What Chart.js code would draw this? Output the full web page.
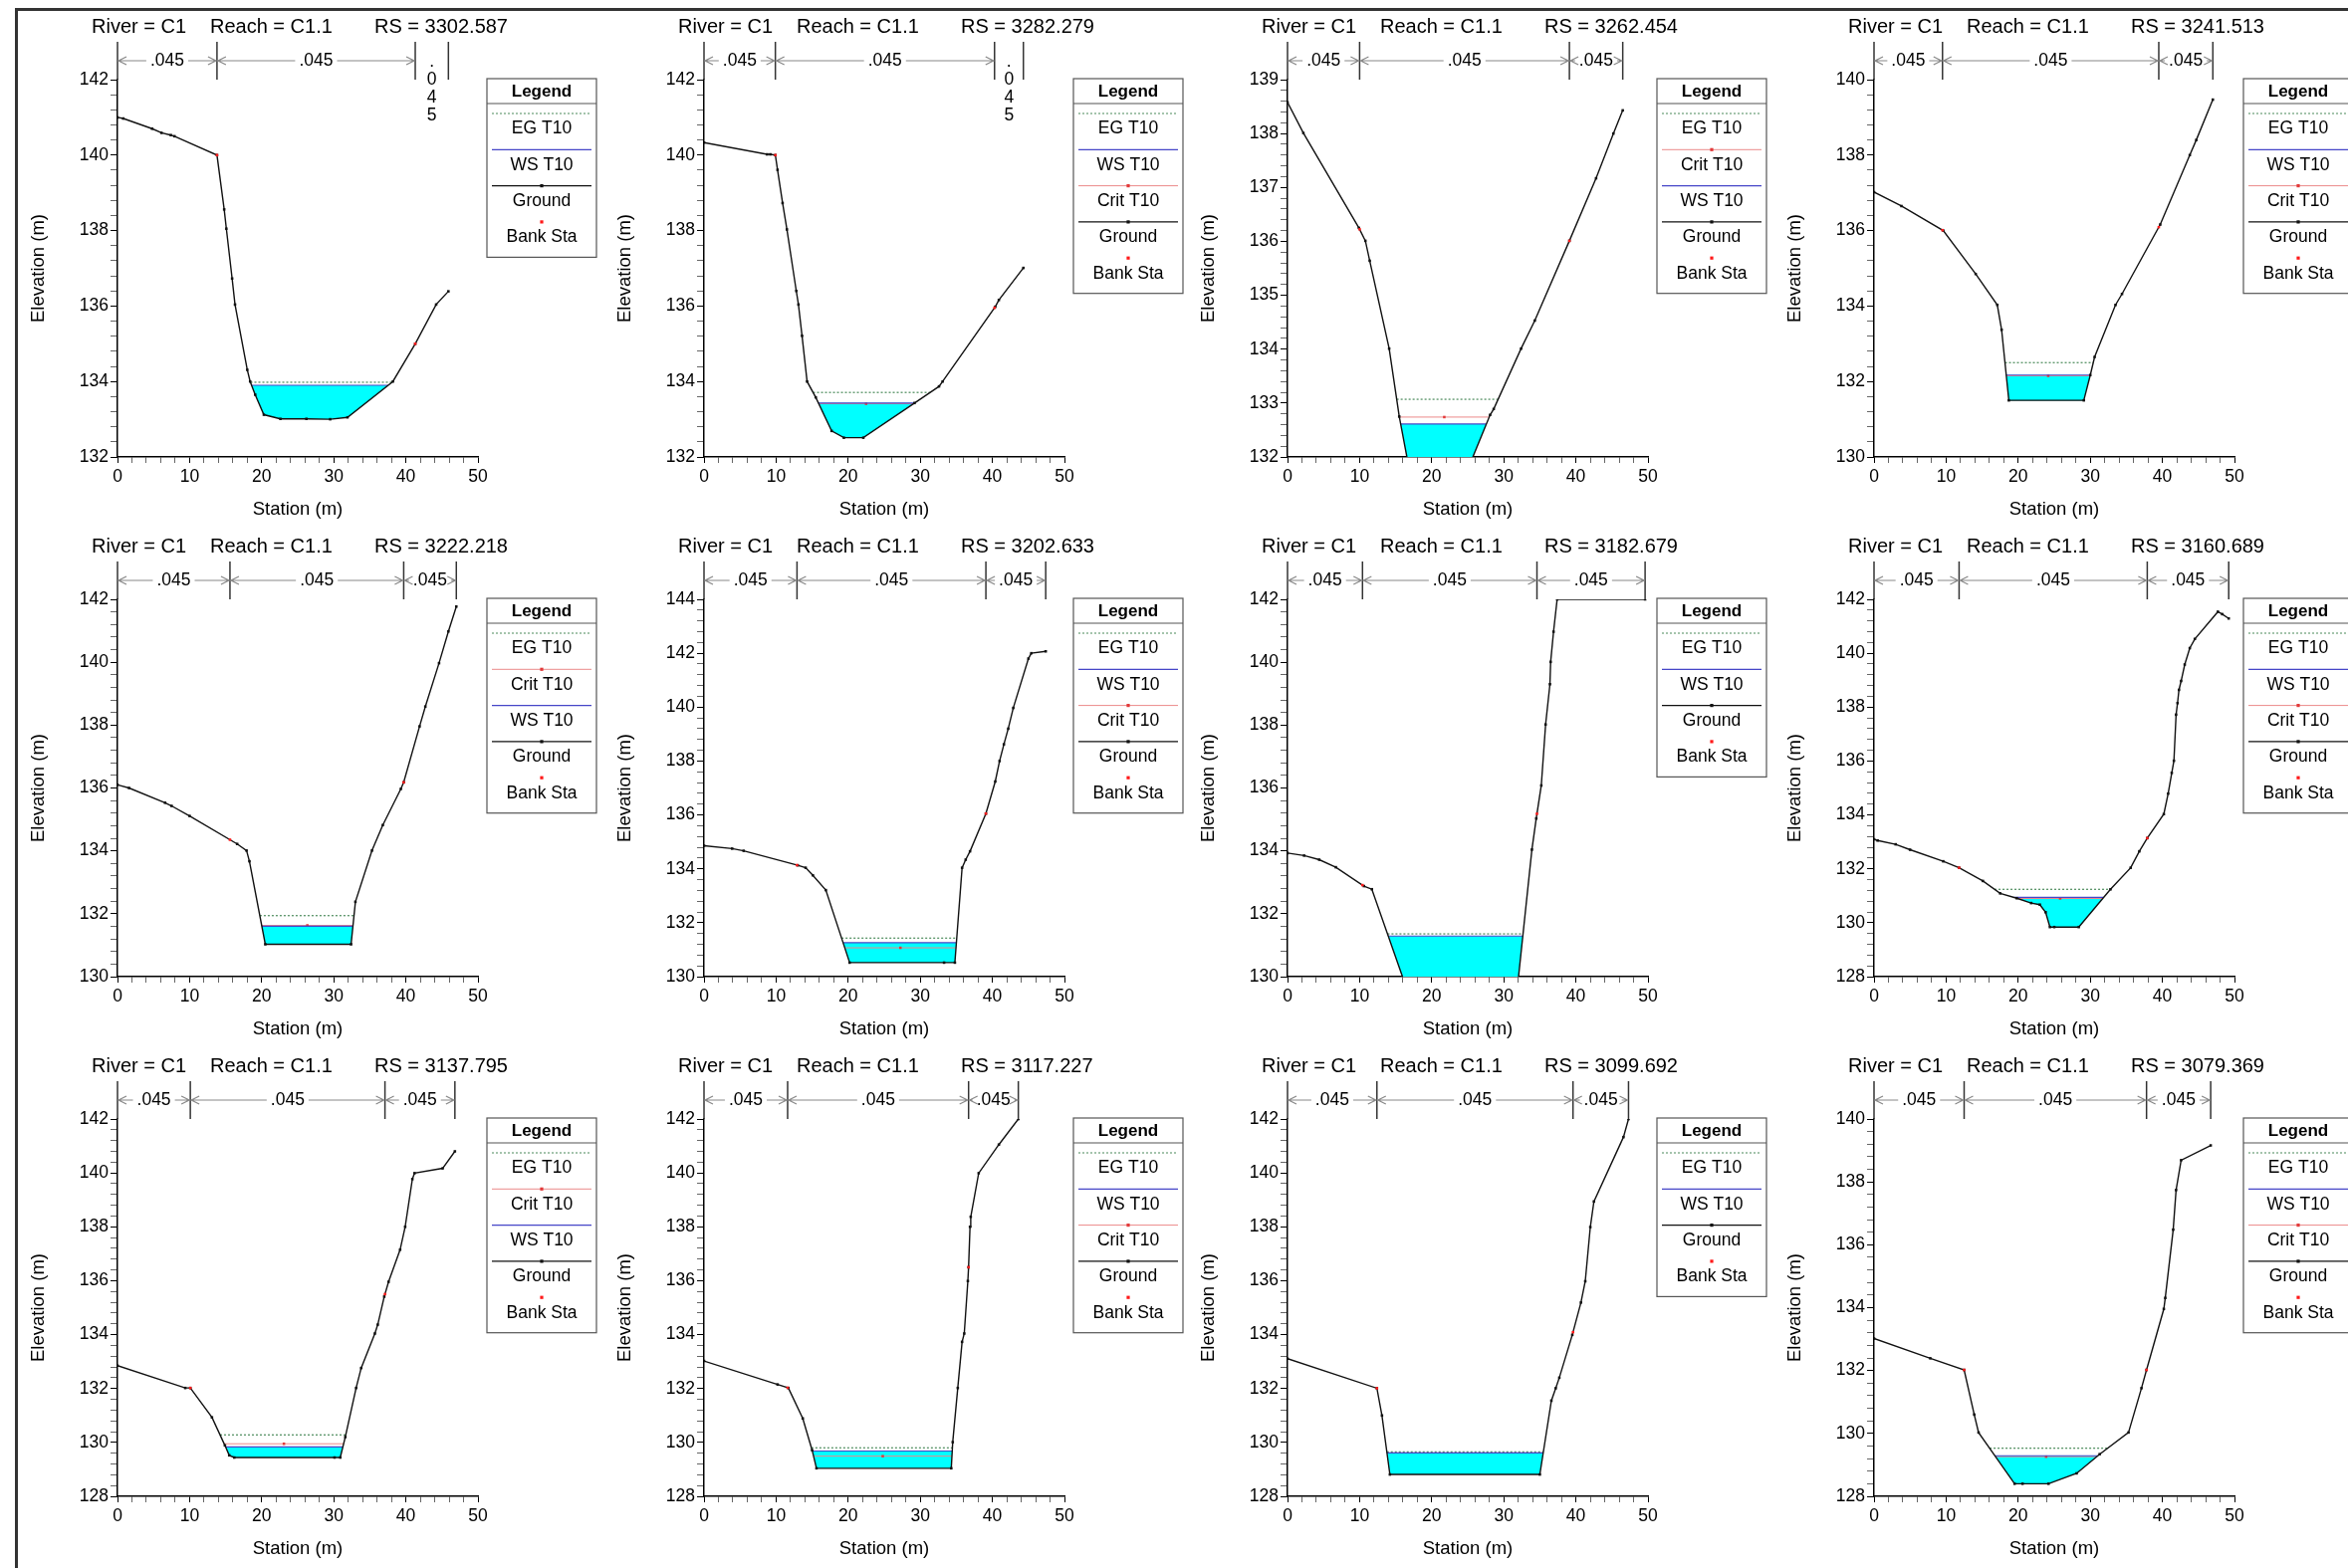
<!DOCTYPE html>
<html>
<head>
<meta charset="utf-8">
<script src="https://cdn.jsdelivr.net/npm/chart.js@4.4.1/dist/chart.umd.min.js"></script>
<style>
  html, body { margin: 0; padding: 0; background: #fff; }
  body { width: 2358px; height: 1575px; overflow: hidden; position: relative; }
  #frame { position: absolute; left: 15px; top: 8px; width: 2400px; height: 1620px;
           border-left: 3px solid #333; border-top: 3px solid #333; }
</style>
</head>
<body>
<div id="frame"></div>
<script>
const riverName = 'C1';
const reachName = 'C1.1';
const profile = 'T10';
const rsList = ['3302.587', '3282.279', '3262.454', '3241.513', '3222.218', '3202.633',
                '3182.679', '3160.689', '3137.795', '3117.227', '3099.692', '3079.369'];
const nValues = ['.045', '.045', '.045'];

// ground stations (m)
const stations = [
  [0, 0.8, 4.8, 6.1, 7.4, 7.9, 13.8, 14.8, 15.1, 15.9, 16.3, 18.0, 18.4, 19.1, 20.3, 22.6, 26.2, 29.5, 31.9, 38.2, 41.3, 44.2, 45.9],
  [0, 8.75, 9.2, 9.9, 10.2, 10.9, 11.5, 12.8, 13.1, 13.6, 14.3, 15.5, 17.7, 19.4, 22.1, 29.2, 32.6, 33.1, 40.4, 40.9, 44.3],
  [0, 2.2, 9.9, 10.8, 11.4, 14.1, 15.5, 16.7, 25.4, 28.1, 28.6, 32.4, 34.3, 39.1, 42.8, 45.2, 46.5],
  [0, 3.8, 9.6, 14.1, 17.1, 17.7, 18.7, 29.1, 30.0, 30.6, 33.5, 34.4, 39.7, 43.8, 44.7, 47.0],
  [0, 1.6, 6.6, 7.5, 10.0, 16.6, 17.9, 18.3, 20.5, 32.4, 33.0, 35.3, 36.8, 39.3, 39.7, 41.9, 42.7, 44.6, 45.9, 47.0],
  [0, 3.9, 5.5, 13.0, 14.1, 15.1, 16.9, 20.2, 33.3, 34.8, 35.8, 36.3, 36.9, 39.1, 40.4, 41.0, 41.6, 42.2, 42.9, 45.0, 45.4, 47.4],
  [0, 2.3, 4.4, 6.7, 10.6, 11.7, 16.1, 32.0, 33.9, 34.5, 35.2, 35.8, 36.4, 36.5, 36.9, 37.4, 49.6],
  [0, 0.5, 3.0, 5.0, 9.6, 11.8, 15.1, 17.5, 19.8, 21.8, 23.0, 23.8, 24.4, 25.0, 28.4, 32.8, 35.6, 36.8, 37.9, 40.2, 40.8, 41.3, 41.6, 41.9, 42.1, 42.3, 42.6, 43.1, 43.8, 44.5, 47.7, 48.3, 49.2],
  [0, 9.4, 10.1, 13.1, 14.9, 15.5, 16.2, 30.1, 30.9, 31.6, 33.1, 33.8, 35.7, 36.1, 37.0, 37.6, 39.2, 39.9, 40.9, 41.2, 45.1, 46.8],
  [0, 10.2, 11.7, 13.7, 15.0, 15.6, 34.3, 34.5, 35.2, 35.8, 36.1, 36.6, 36.7, 36.9, 37.0, 38.1, 40.9, 43.6],
  [0, 12.4, 13.1, 14.2, 35.0, 36.6, 37.2, 37.7, 39.5, 40.7, 41.3, 42.0, 42.5, 46.6, 47.3],
  [0, 7.8, 12.5, 13.9, 14.5, 19.5, 20.6, 24.2, 28.1, 31.3, 35.3, 37.1, 37.8, 40.2, 40.4, 41.5, 41.9, 42.6, 46.7]
];
// ground elevations (m)
const elevations = [
  [141.0, 140.97, 140.7, 140.59, 140.53, 140.5, 140.0, 138.56, 138.05, 136.73, 136.04, 134.31, 134.0, 133.65, 133.12, 133.01, 133.01, 133.0, 133.05, 134.0, 135.0, 136.04, 136.39],
  [140.33, 140.02, 140.02, 140.0, 139.61, 138.73, 138.03, 136.4, 136.04, 135.21, 134.0, 133.58, 132.69, 132.51, 132.51, 133.43, 133.87, 134.0, 135.98, 136.16, 137.01],
  [138.58, 138.01, 136.25, 136.01, 135.64, 134.01, 132.75, 131.9, 131.9, 132.78, 132.89, 134.01, 134.53, 136.01, 137.17, 138.0, 138.43],
  [137.02, 136.65, 136.0, 134.85, 134.03, 133.37, 131.5, 131.5, 132.17, 132.65, 134.03, 134.32, 136.16, 138.0, 138.4, 139.47],
  [136.1, 136.0, 135.53, 135.43, 135.11, 134.22, 134.01, 133.67, 131.03, 131.03, 132.38, 134.01, 134.82, 135.97, 136.18, 137.96, 138.59, 139.97, 140.98, 141.77],
  [134.86, 134.75, 134.67, 134.13, 134.04, 133.76, 133.21, 130.52, 130.52, 130.52, 134.04, 134.34, 134.65, 136.05, 137.24, 138.0, 138.62, 139.2, 139.97, 141.8, 142.0, 142.07],
  [133.93, 133.85, 133.72, 133.48, 132.88, 132.78, 129.9, 129.9, 134.04, 135.03, 136.08, 138.02, 139.3, 140.01, 140.97, 142.0, 142.0],
  [133.1, 133.05, 132.91, 132.71, 132.28, 132.04, 131.55, 131.09, 130.91, 130.73, 130.67, 130.39, 129.84, 129.84, 129.84, 131.24, 132.04, 132.65, 133.14, 134.03, 134.79, 135.56, 136.01, 137.72, 138.15, 138.64, 138.97, 139.58, 140.19, 140.53, 141.54, 141.45, 141.29],
  [132.85, 132.02, 132.02, 130.93, 129.89, 129.52, 129.44, 129.44, 129.44, 130.2, 132.02, 132.76, 134.04, 134.37, 135.41, 135.96, 137.15, 138.0, 139.77, 139.99, 140.17, 140.8],
  [133.02, 132.15, 132.02, 130.89, 129.71, 129.04, 129.04, 130.01, 132.02, 133.73, 134.04, 135.99, 136.5, 138.0, 138.37, 139.99, 141.05, 142.0],
  [133.11, 132.01, 131.0, 128.81, 128.81, 131.55, 132.01, 132.4, 133.99, 135.19, 135.98, 137.99, 138.94, 141.33, 142.0],
  [133.02, 132.39, 132.02, 130.6, 130.03, 128.4, 128.4, 128.4, 128.73, 129.34, 130.03, 131.44, 132.02, 133.96, 134.31, 136.48, 137.74, 138.69, 139.16]
];
const bankLeft  = [13.8, 9.9, 10.0, 9.5, 15.6, 12.9, 10.4, 11.8, 10.1, 11.6, 12.4, 12.5];
const bankRight = [41.3, 40.3, 39.1, 39.5, 39.7, 39.1, 34.6, 37.9, 37.1, 36.7, 39.6, 37.8];
const wsT10   = [133.9, 133.43, 132.61, 132.17, 131.6, 131.26, 131.29, 130.94, 129.83, 129.68, 129.61, 129.29];
const egT10   = [133.98, 133.71, 133.07, 132.5, 131.94, 131.43, 131.36, 131.24, 130.28, 129.8, 129.65, 129.53];
const critT10 = [null, 133.41, 132.74, 132.15, 131.63, 131.07, null, 130.9, 129.95, 129.49, null, 129.26];
const yMin   = [132, 132, 132, 130, 130, 130, 130, 128, 128, 128, 128, 128];
const yMax   = [142, 142, 139, 140, 142, 144, 142, 142, 142, 142, 142, 140];
const yMajor = [2, 2, 1, 2, 2, 2, 2, 2, 2, 2, 2, 2];
const xTicks = [0, 10, 20, 30, 40, 50];

// ---- layout ----
const COL_X = [0, 589, 1175, 1764];
const ROW_Y = [0, 522, 1044];
const CANVAS_W = 620, CANVAS_H = 523;
const PLOT_L = 118, PLOT_R = 480, PLOT_T = 80, PLOT_B = 459;
const FONT = '"Liberation Sans", Arial, Helvetica, sans-serif';

const C_WATER = '#00ffff', C_EG = '#4a8a5a', C_WS = '#4646c8', C_CRIT = '#ec8a8a';
const C_GROUND = '#111111', C_BANK = '#ff1a1a';

// where a horizontal level meets the ground either side of the thalweg
function crossing(st, el, level) {
  let k = 0;
  el.forEach((e, n) => { if (e < el[k]) k = n; });
  let i = k, j = k;
  while (i > 0 && el[i - 1] < level) i--;
  while (j < el.length - 1 && el[j + 1] < level) j++;
  const lerp = (a, b) => st[a] + (level - el[a]) * (st[b] - st[a]) / (el[b] - el[a]);
  return {
    i: i, j: j,
    xl: i > 0 ? lerp(i - 1, i) : st[0],
    xr: j < el.length - 1 ? lerp(j + 1, j) : st[st.length - 1]
  };
}

function groundAt(st, el, x) {
  for (let n = 0; n < st.length - 1; n++) {
    if (x >= st[n] && x <= st[n + 1]) {
      if (st[n + 1] === st[n]) return el[n];
      return el[n] + (x - st[n]) * (el[n + 1] - el[n]) / (st[n + 1] - st[n]);
    }
  }
  return el[el.length - 1];
}

function isMult(v, m) {
  return Math.abs(v / m - Math.round(v / m)) < 1e-6;
}

// title, n-value strip and boxed legend
function decor(p, legendItems) {
  return {
    id: 'hecDecor',
    afterDraw: function (chart) {
      const ctx = chart.ctx;
      const area = chart.chartArea;
      const xs = chart.scales.x;
      ctx.save();

      // title
      ctx.fillStyle = '#000';
      ctx.font = '20px ' + FONT;
      ctx.textAlign = 'left';
      ctx.textBaseline = 'middle';
      const ty = area.top - 53;
      ctx.fillText('River = ' + riverName, area.left - 26, ty);
      ctx.fillText('Reach = ' + reachName, area.left + 93, ty);
      ctx.fillText('RS = ' + rsList[p], area.left + 258, ty);

      // manning's n strip
      const st = stations[p];
      const bounds = [st[0], bankLeft[p], bankRight[p], st[st.length - 1]];
      const bx = bounds.map(v => xs.getPixelForValue(v));
      const ay = area.top - 19;
      ctx.strokeStyle = '#333';
      ctx.lineWidth = 1.5;
      bx.forEach(x => {
        ctx.beginPath();
        ctx.moveTo(x, area.top - 38);
        ctx.lineTo(x, area.top);
        ctx.stroke();
      });
      ctx.font = '17.5px ' + FONT;
      ctx.textAlign = 'center';
      for (let k = 0; k < 3; k++) {
        const a = bx[k], b = bx[k + 1], mid = (a + b) / 2;
        const label = nValues[k];
        const w = ctx.measureText(label).width;
        ctx.fillStyle = '#000';
        if (b - a < w + 4) {
          label.split('').forEach((ch, m) => ctx.fillText(ch, mid, ay + 1 + m * 18));
          continue;
        }
        ctx.fillText(label, mid, ay);
        ctx.strokeStyle = '#888';
        ctx.lineWidth = 1.2;
        const l1 = Math.max(a + 1, mid - w / 2 - 4);
        const r1 = Math.min(b - 1, mid + w / 2 + 4);
        ctx.beginPath();
        ctx.moveTo(a + 1, ay); ctx.lineTo(l1, ay);
        ctx.moveTo(r1, ay); ctx.lineTo(b - 1, ay);
        // open arrow heads
        ctx.moveTo(a + 9, ay - 4); ctx.lineTo(a + 1, ay); ctx.lineTo(a + 9, ay + 4);
        ctx.moveTo(b - 9, ay - 4); ctx.lineTo(b - 1, ay); ctx.lineTo(b - 9, ay + 4);
        ctx.stroke();
      }

      // legend box
      const lx = area.right + 9, ly = area.top - 1, lw = 110;
      const rowH = 36.3;
      const lh = 70.5 + (legendItems.length - 1) * rowH;
      ctx.fillStyle = '#fff';
      ctx.fillRect(lx, ly, lw, lh);
      ctx.strokeStyle = '#555';
      ctx.lineWidth = 1.2;
      ctx.strokeRect(lx, ly, lw, lh);
      ctx.beginPath();
      ctx.moveTo(lx, ly + 25); ctx.lineTo(lx + lw, ly + 25);
      ctx.stroke();
      ctx.fillStyle = '#000';
      ctx.font = 'bold 17px ' + FONT;
      ctx.fillText('Legend', lx + lw / 2, ly + 13);
      ctx.font = '17.5px ' + FONT;
      legendItems.forEach((ds, k) => {
        const y = ly + 35 + k * rowH;
        const cx = lx + lw / 2;
        if (ds.showLine !== false) {
          ctx.save();
          ctx.strokeStyle = ds.borderColor;
          ctx.lineWidth = ds.borderWidth;
          ctx.setLineDash(ds.borderDash || []);
          ctx.beginPath();
          ctx.moveTo(lx + 5, y); ctx.lineTo(lx + lw - 5, y);
          ctx.stroke();
          ctx.restore();
        }
        if (ds.legendMarker) {
          ctx.fillStyle = ds.legendMarker;
          ctx.fillRect(cx - 1.6, y - 1.6, 3.2, 3.2);
        }
        ctx.fillStyle = '#000';
        ctx.fillText(ds.label, cx, y + 15.5);
      });
      ctx.restore();
    }
  };
}

function buildPanel(p) {
  const st = stations[p], el = elevations[p];
  const col = p % 4, row = Math.floor(p / 4);
  const cv = document.createElement('canvas');
  cv.width = CANVAS_W;
  cv.height = CANVAS_H;
  cv.style.cssText = 'position:absolute;left:' + COL_X[col] + 'px;top:' + ROW_Y[row] +
    'px;width:' + CANVAS_W + 'px;height:' + CANVAS_H + 'px;';
  document.body.appendChild(cv);

  const ground = st.map((x, n) => ({x: x, y: el[n]}));
  const banks = [bankLeft[p], bankRight[p]].map(x => ({x: x, y: groundAt(st, el, x)}));
  const ws = wsT10[p], eg = egT10[p], cr = critT10[p];
  const w = crossing(st, el, ws);
  const water = [{x: w.xl, y: ws}].concat(ground.slice(w.i, w.j + 1), [{x: w.xr, y: ws}]);
  const e = crossing(st, el, eg);

  const bankDs = {label: 'Bank Sta', data: banks, showLine: false, pointStyle: 'rect', pointRadius: 1.8,
    pointBackgroundColor: C_BANK, pointBorderWidth: 0, legendMarker: C_BANK, order: 0};
  const groundDs = {label: 'Ground', data: ground, borderColor: C_GROUND, borderWidth: 1.4, pointStyle: 'rect',
    pointRadius: 1.8, pointBackgroundColor: C_GROUND, pointBorderWidth: 0, legendMarker: C_GROUND, order: 1};
  const wsDs = {label: 'WS ' + profile, level: ws, data: [{x: w.xl, y: ws}, {x: w.xr, y: ws}],
    borderColor: C_WS, borderWidth: 1.2, pointRadius: 0, order: 2};
  const egDs = {label: 'EG ' + profile, level: eg, data: [{x: e.xl, y: eg}, {x: e.xr, y: eg}],
    borderColor: C_EG, borderWidth: 1.2, borderDash: [2, 2], pointRadius: 0, order: 4};
  const waterDs = {label: 'water', data: water, fill: 'shape', backgroundColor: C_WATER,
    borderColor: 'rgba(0,0,0,0)', borderWidth: 0, pointRadius: 0, order: 5};

  const datasets = [bankDs, groundDs, wsDs, egDs, waterDs];
  const levels = [egDs, wsDs];
  if (cr !== null) {
    const c = crossing(st, el, cr);
    const critDs = {label: 'Crit ' + profile, level: cr,
      data: [{x: c.xl, y: cr}, {x: (c.xl + c.xr) / 2, y: cr}, {x: c.xr, y: cr}],
      borderColor: C_CRIT, borderWidth: 1, pointRadius: [0, 1.8, 0], pointStyle: 'rect',
      pointBackgroundColor: '#e23a3a', pointBorderWidth: 0, legendMarker: '#e23a3a', order: 3};
    datasets.push(critDs);
    levels.push(critDs);
  }
  levels.sort((a, b) => b.level - a.level);
  const legendItems = levels.concat([groundDs, bankDs]);

  const major = yMajor[p];
  new Chart(cv, {
    type: 'line',
    data: {datasets: datasets},
    options: {
      responsive: false,
      animation: false,
      layout: {padding: {left: 0, top: PLOT_T, right: CANVAS_W - PLOT_R, bottom: 0}},
      plugins: {legend: {display: false}, tooltip: {enabled: false}},
      scales: {
        x: {
          type: 'linear', min: xTicks[0], max: xTicks[xTicks.length - 1],
          afterFit: function (s) { s.height = CANVAS_H - PLOT_B; },
          border: {color: '#000', width: 1.5},
          grid: {drawOnChartArea: false, tickLength: 6, tickWidth: 1,
            tickColor: c => isMult(c.tick.value, 10) ? '#000' : '#666'},
          ticks: {stepSize: 2, autoSkip: false, maxRotation: 0, padding: 4, color: '#000',
            font: {family: FONT, size: 17.5},
            callback: v => xTicks.some(t => Math.abs(t - v) < 1e-6) ? String(Math.round(v)) : ''},
          title: {display: true, text: 'Station (m)', color: '#000', font: {family: FONT, size: 18.5},
            padding: {top: 0, bottom: 0}}
        },
        y: {
          min: yMin[p], max: yMax[p],
          afterFit: function (s) { s.width = PLOT_L; },
          border: {color: '#000', width: 1.5},
          grid: {drawOnChartArea: false, tickLength: 7, tickWidth: 1,
            tickColor: c => isMult(c.tick.value, major) ? '#000' : '#666'},
          ticks: {stepSize: major / 5, autoSkip: false, padding: 2, color: '#000',
            font: {family: FONT, size: 17.5},
            callback: v => isMult(v, major) ? String(Math.round(v)) : ''},
          title: {display: true, text: 'Elevation (m)', color: '#000', font: {family: FONT, size: 18.5},
            padding: {top: 28, bottom: 0}}
        }
      }
    },
    plugins: [decor(p, legendItems)]
  });
}

for (let p = 0; p < rsList.length; p++) buildPanel(p);
</script>
</body>
</html>
